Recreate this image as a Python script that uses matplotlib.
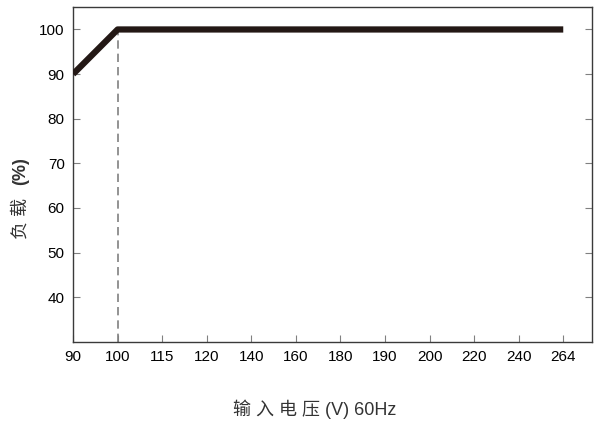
import numpy as np
import matplotlib
matplotlib.use("Agg")
import matplotlib.pyplot as plt

plt.rcParams['font.family'] = ['Liberation Sans Narrow', 'Liberation Sans', 'Noto Sans CJK SC', 'DejaVu Sans']

# 输入电压 tick labels (equally spaced categories)
volt_labels = ["90", "100", "115", "120", "140", "160", "180", "190", "200", "220", "240", "264"]
# load curve: (category index, load %)
curve_idx = [0, 1, 11]
curve_load = [90, 100, 100]
y_ticks = [40, 50, 60, 70, 80, 90, 100]

fig = plt.figure(figsize=(5.94, 4.21), dpi=100)
ax = fig.add_axes([0.123, 0.188, 0.874, 0.795])

ax.plot(curve_idx, curve_load, color='#231815', lw=4.5, solid_capstyle='butt', zorder=3)
ax.plot([1, 1], [30, 100], color='#808080', lw=1.2, ls=(0, (5, 3)), zorder=2)

ax.set_xlim(0, 11.65)
ax.set_ylim(30, 105)
ax.set_xticks(np.arange(len(volt_labels)))
ax.set_xticklabels(volt_labels)
ax.set_yticks(y_ticks)

ax.tick_params(axis='both', direction='in', length=5, color='#808080', labelsize=11, pad=6)
ax.tick_params(axis='y', right=True)
for s in ax.spines.values():
    s.set_color('#3a3a3a')
    s.set_linewidth(1.0)

# x label
fig.text(0.529, 0.027, "输 入 电 压 (V) 60Hz", ha='center', va='center', fontsize=13, color='#333333')
# y label: "负 载" plain + "(%)" bold
fig.text(0.035, 0.480, "负 载", rotation=90, ha='center', va='center', fontsize=13, color='#333333')
fig.text(0.035, 0.594, "(%)", rotation=90, ha='center', va='center', fontsize=13,
         fontweight='bold', color='#333333')

fig.savefig("out.png", dpi=100)
